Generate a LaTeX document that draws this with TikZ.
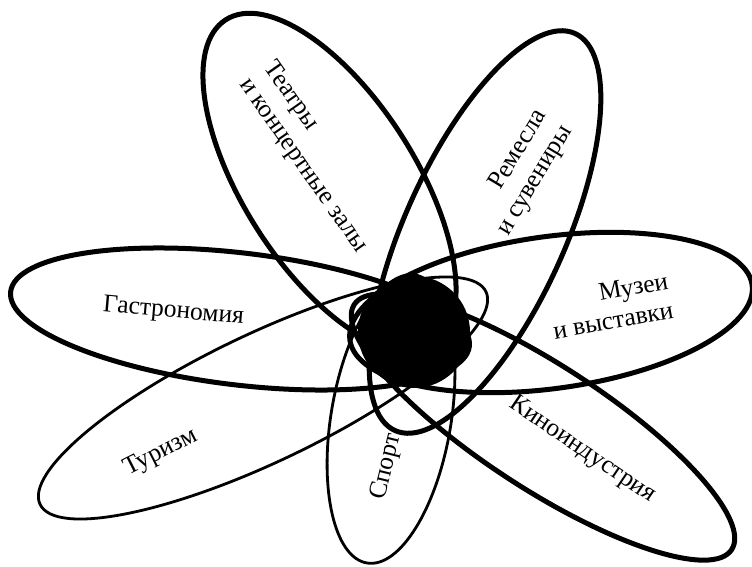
\documentclass[tikz,border=0pt]{standalone}
\usepackage{fontspec}
\setmainfont{Liberation Serif}
\newfontfamily\petalfont{Liberation Serif}
\usetikzlibrary{shapes.geometric}
\begin{document}
\begin{tikzpicture}[x=1pt,y=-1pt,
  petal/.style={draw, ellipse, inner sep=0pt, outer sep=0pt},
  thickpetal/.style={petal, line width=5pt},
  thinpetal/.style={petal, line width=2.8pt},
  lbl/.style={font=\petalfont\fontsize{25.5}{30}\selectfont, inner sep=0pt}]
\useasboundingbox (0,0) rectangle (752,567);
% petals
\node[thickpetal, minimum width=462pt, minimum height=132pt, rotate=-6.8] (gastro) at (240,319) {};
\node[thickpetal, minimum width=406pt, minimum height=152pt, rotate=7.8] (museum) at (551,312.5) {};
\node[thickpetal, minimum width=386pt, minimum height=172pt, rotate=-57.5] (theatre) at (329.5,182.5) {};
\node[thickpetal, minimum width=436pt, minimum height=160pt, rotate=65.6] (crafts) at (485,232) {};
\node[thickpetal, minimum width=450pt, minimum height=124pt, rotate=-33] (cinema) at (543,427) {};
\node[thinpetal, minimum width=494pt, minimum height=128pt, rotate=25.5] (tourism) at (263,398) {};
\node[thinpetal, minimum width=292pt, minimum height=120pt, rotate=80.5] (sport) at (391,419) {};
% core
\node[circle, fill=black, minimum size=112pt, inner sep=0pt] (core) at (414,332) {};
% labels
\node[lbl, align=left, rotate=-55] (tlabel) at (315,157) {Театры\\и концертные залы};
\node[lbl, align=right, rotate=59] (clabel) at (522.6,173) {Ремесла\\и сувениры};
\node[lbl, align=right, rotate=10] (mlabel) at (610.5,306) {Музеи\\и выставки};
\node[lbl, rotate=-5] (glabel) at (173.5,312) {Гастрономия};
\node[lbl, rotate=27] (tolabel) at (161,453) {Туризм};
\node[lbl, rotate=76] (slabel) at (387,467) {Спорт};
\node[lbl, rotate=-34] (kilabel) at (582,450) {Киноиндустрия};
\end{tikzpicture}
\end{document}
